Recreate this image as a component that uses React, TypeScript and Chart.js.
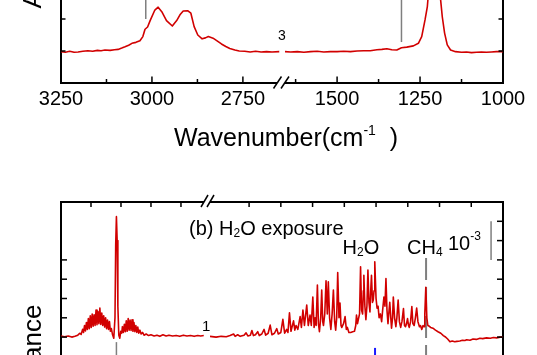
import React, { useEffect, useRef } from 'react';
import { Chart, registerables } from 'chart.js';

Chart.register(...registerables);

const FONT = '"Liberation Sans", Arial, Helvetica, sans-serif';
const RED = '#d10000';
const GRAY = '#7f7f7f';
const BLUE = '#1a1aff';

// ---------- Panel (a): left segment (C-H stretch) ----------
const aLeftWavenumber = [3250, 3238, 3226, 3214, 3203, 3190, 3176, 3163, 3150, 3140, 3129, 3115, 3103, 3093, 3083, 3074, 3064, 3055, 3044, 3033, 3025, 3019, 3012, 3005, 2992, 2983, 2973, 2960, 2944, 2932, 2923, 2914, 2902, 2893, 2884, 2874, 2862, 2853, 2845, 2832, 2820, 2809, 2797, 2786, 2772, 2760, 2745, 2730, 2715, 2700, 2685, 2670, 2650];
const aLeftAbsorbance = [0.98, 0.96, 0.99, 0.96, 0.97, 0.99, 1.01, 0.99, 1.02, 1.01, 1.03, 1.02, 1.04, 1.05, 1.09, 1.13, 1.18, 1.24, 1.27, 1.32, 1.45, 1.68, 1.75, 1.95, 2.28, 2.37, 2.23, 1.95, 1.78, 1.95, 2.13, 2.25, 2.26, 2.18, 1.76, 1.5, 1.38, 1.41, 1.45, 1.40, 1.31, 1.22, 1.14, 1.08, 1.03, 1.0, 0.99, 0.97, 0.99, 0.97, 0.98, 0.97, 0.98];

// ---------- Panel (a): right segment (CH4 bend / 1200 band) ----------
const aRightWavenumber = [1657, 1640, 1620, 1600, 1580, 1560, 1540, 1520, 1500, 1480, 1460, 1440, 1420, 1400, 1380, 1365, 1350, 1335, 1320, 1306, 1290, 1270, 1255, 1245, 1235, 1228, 1220, 1213, 1207, 1200, 1193, 1188, 1183, 1176, 1168, 1158, 1143, 1125, 1110, 1095, 1080, 1065, 1050, 1035, 1020, 1000];
const aRightAbsorbance = [0.98, 0.97, 0.98, 0.96, 0.98, 0.99, 0.97, 0.98, 0.98, 0.99, 0.98, 1.0, 1.01, 1.01, 1.04, 1.05, 1.07, 1.04, 1.03, 1.1, 1.12, 1.16, 1.24, 1.45, 1.97, 2.39, 3.4, 4.8, 5.6, 5.0, 3.6, 2.6, 2.07, 1.56, 1.19, 1.03, 0.98, 0.96, 0.97, 0.95, 0.96, 0.97, 0.96, 0.97, 0.98, 0.98];

// ---------- Panel (b): left segment ----------
const bLeftWavenumber = [3250, 3235, 3220, 3205, 3192, 3180, 3172, 3166, 3160, 3156, 3152, 3148, 3144, 3140, 3136, 3132, 3128, 3124, 3120, 3116, 3112, 3108, 3104, 3100, 3096, 3092, 3088, 3084, 3080, 3076, 3072, 3068, 3064, 3060, 3056, 3052, 3048, 3044, 3040, 3035, 3030, 3025, 3022, 3019, 3016, 3013, 3009, 3005, 3001, 2997, 2994, 2990, 2986, 2982, 2978, 2974, 2970, 2966, 2962, 2958, 2954, 2950, 2946, 2942, 2938, 2934, 2930, 2926, 2921, 2916, 2910, 2904, 2895, 2885, 2875, 2862, 2850, 2838, 2825, 2812, 2800, 2785, 2770, 2755, 2740, 2725, 2710, 2695, 2680, 2668, 2655];
const bLeftAbsorbance = [0.03, 0.01, 0.03, 0.0, 0.02, 0.05, 0.1, 0.07, 0.2, 0.12, 0.3, 0.16, 0.38, 0.2, 0.48, 0.22, 0.55, 0.25, 0.6, 0.28, 0.58, 0.3, 0.7, 0.32, 0.66, 0.35, 0.75, 0.33, 0.62, 0.3, 0.55, 0.26, 0.5, 0.22, 0.44, 0.2, 0.4, 0.15, 0.22, 0.06, -0.03, 0.5, 2.4, 3.12, 2.5, 0.8, 0.05, -0.03, 0.15, 0.1, 0.27, 0.12, 0.33, 0.14, 0.42, 0.15, 0.48, 0.18, 0.44, 0.17, 0.45, 0.15, 0.38, 0.14, 0.3, 0.12, 0.26, 0.1, 0.18, 0.08, 0.12, 0.05, 0.08, 0.04, 0.06, 0.03, 0.05, 0.02, 0.06, 0.03, 0.05, 0.03, 0.04, 0.02, 0.05, 0.03, 0.04, 0.02, 0.04, 0.03, 0.04];

// ---------- Panel (b): right segment (H2O bend + CH4) ----------
const bRightWavenumber = [2154, 2130, 2110, 2090, 2075, 2061, 2055, 2045, 2035, 2020, 2012, 2005, 1995, 1989, 1983, 1975, 1966, 1960, 1950, 1941, 1935, 1925, 1917, 1910, 1900, 1891, 1885, 1875, 1867, 1860, 1852, 1847, 1841, 1835, 1825, 1820, 1815, 1808, 1799, 1794, 1788, 1782, 1773, 1767, 1760, 1755, 1749, 1744, 1740, 1736, 1731, 1727, 1723, 1718, 1714, 1710, 1707, 1702, 1697, 1692, 1688, 1683, 1678, 1673, 1668, 1663, 1659, 1655, 1651, 1646, 1642, 1638, 1635, 1628, 1622, 1617, 1613, 1607, 1600, 1592, 1585, 1580, 1577, 1573, 1570, 1565, 1561, 1557, 1553, 1550, 1548, 1544, 1540, 1536, 1532, 1528, 1524, 1521, 1518, 1514, 1511, 1508, 1505, 1500, 1496, 1492, 1488, 1483, 1478, 1474, 1469, 1465, 1461, 1457, 1453, 1450, 1446, 1442, 1439, 1435, 1432, 1427, 1422, 1418, 1413, 1408, 1403, 1398, 1392, 1388, 1384, 1380, 1376, 1372, 1369, 1364, 1359, 1355, 1350, 1345, 1340, 1335, 1329, 1325, 1320, 1315, 1311, 1308, 1304, 1300, 1296, 1290, 1285, 1276, 1266, 1256, 1245, 1235, 1228, 1218, 1209, 1200, 1190, 1182, 1170, 1160, 1150, 1143, 1130, 1118, 1105, 1091, 1080, 1065, 1050, 1038, 1025, 1012, 1000];
const bRightAbsorbance = [0.02, 0.0, 0.02, 0.01, 0.04, 0.08, 0.02, 0.06, 0.02, 0.05, 0.11, 0.03, 0.05, 0.17, 0.04, 0.06, 0.14, 0.04, 0.08, 0.2, 0.05, 0.1, 0.31, 0.06, 0.1, 0.22, 0.08, 0.12, 0.46, 0.1, 0.2, 0.12, 0.63, 0.15, 0.42, 0.18, 0.3, 0.2, 0.53, 0.25, 0.7, 0.3, 0.83, 0.3, 0.57, 0.3, 1.04, 0.25, 0.5, 0.3, 1.35, 0.35, 0.14, 0.5, 1.22, 0.4, 0.3, 0.6, 1.46, 0.6, 1.43, 0.5, 0.2, 0.6, 1.22, 0.4, 0.18, 0.5, 1.67, 0.5, 0.88, 0.3, 0.25, 0.35, 0.53, 0.2, 0.25, 0.12, 0.12, 0.14, 0.15, 0.3, 0.57, 0.35, 0.45, 0.6, 1.82, 0.7, 0.6, 1.2, 1.6, 0.8, 0.45, 0.8, 1.74, 0.9, 0.65, 1.2, 1.6, 0.9, 0.96, 1.2, 1.95, 1.0, 0.75, 0.8, 0.5, 0.6, 0.4, 0.7, 1.04, 0.8, 1.52, 0.7, 0.35, 0.6, 0.9, 0.5, 0.23, 0.5, 1.04, 0.5, 0.27, 0.5, 0.96, 0.4, 0.25, 0.4, 0.74, 0.3, 0.27, 0.35, 0.48, 0.3, 0.25, 0.4, 0.79, 0.35, 0.3, 0.5, 0.75, 0.4, 0.27, 0.3, 0.2, 0.3, 0.27, 0.6, 1.29, 0.5, 0.3, 0.28, 0.25, 0.23, 0.18, 0.14, 0.1, 0.04, 0.01, -0.05, -0.12, -0.1, -0.12, -0.11, -0.1, -0.08, -0.09, -0.07, -0.08, -0.05, -0.06, -0.03, -0.04, -0.02, -0.03, -0.01, -0.02, 0.0, 0.0];

// ---------- Axis ticks ----------
const aLeftTicks = [3250, 3125, 3000, 2875, 2750];
const aRightTicks = [1625, 1500, 1375, 1250, 1125, 1000];
const bLeftTicks = [3250, 3125, 3000, 2875, 2750];
const bRightTicks = [2000, 1875, 1750, 1625, 1500, 1375, 1250, 1125, 1000];
const aYTicks = [1, 2, 3, 4, 5, 6, 7];
const bLeftYTicks = [0, 0.5, 1, 1.5, 2];
const bRightYTicks = [0, 0.5, 1, 1.5, 2, 2.5, 3];

// ---------- Reference marks (wavenumber, from, to) ----------
const aLeftMarks = [{ x: 3017, from: 2.0, to: 3.4, color: GRAY, width: 1.5, dash: [] as number[] }];
const aRightMarks = [{ x: 1306, from: 1.28, to: 2.8, color: GRAY, width: 1.5, dash: [] as number[] }];
const bLeftMarks = [{ x: 3019, from: -0.13, to: -1.5, color: GRAY, width: 1.5, dash: [] as number[] }];
const bRightMarks = [
  { x: 1303, from: 2.05, to: -1.5, color: GRAY, width: 2, dash: [22, 7] },
  { x: 1504, from: -0.28, to: -1.5, color: BLUE, width: 2, dash: [] as number[] },
  { x: 1047, from: 2.0, to: 3.0, color: GRAY, width: 1.5, dash: [] as number[] },
];

type Mark = { x: number; from: number; to: number; color: string; width: number; dash: number[] };
type SegCfg = {
  xs: number[]; ys: number[];
  xMin: number; xMax: number; yMin: number; yMax: number;
  padding: { left: number; right: number; top: number; bottom: number };
  yPos: 'left' | 'right'; yWidth: number;
  xPos: 'top' | 'bottom'; xHeight: number;
  xTicks: number[]; majorEvery: number; majorLen: number; minorLen: number; showLabels: boolean;
  yTicks: number[]; yLen: number;
  marks: Mark[];
  brk?: 'bottom' | 'top';
};

function segPlugin(cfg: SegCfg) {
  return {
    id: 'segFrame',
    beforeDatasetsDraw(chart: any) {
      const ctx = chart.ctx;
      const xs = chart.scales.x;
      const ys = chart.scales.y;
      ctx.save();
      cfg.marks.forEach((m) => {
        ctx.beginPath();
        ctx.strokeStyle = m.color;
        ctx.lineWidth = m.width;
        ctx.setLineDash(m.dash);
        const px = xs.getPixelForValue(m.x);
        ctx.moveTo(px, ys.getPixelForValue(m.from));
        ctx.lineTo(px, ys.getPixelForValue(m.to));
        ctx.stroke();
      });
      ctx.restore();
    },
    afterDraw(chart: any) {
      const ctx = chart.ctx;
      const xs = chart.scales.x;
      const ys = chart.scales.y;
      const { left, right, top, bottom } = chart.chartArea;
      ctx.save();
      ctx.strokeStyle = '#000';
      ctx.lineWidth = 1.5;
      ctx.setLineDash([]);
      cfg.xTicks.forEach((v) => {
        const px = xs.getPixelForValue(v);
        const len = v % cfg.majorEvery === 0 ? cfg.majorLen : cfg.minorLen;
        const y0 = cfg.xPos === 'bottom' ? bottom : top;
        const dir = cfg.xPos === 'bottom' ? -1 : 1;
        ctx.beginPath();
        ctx.moveTo(px, y0);
        ctx.lineTo(px, y0 + dir * len);
        ctx.stroke();
      });
      cfg.yTicks.forEach((v) => {
        const py = ys.getPixelForValue(v);
        const x0 = cfg.yPos === 'left' ? left : right;
        const dir = cfg.yPos === 'left' ? 1 : -1;
        ctx.beginPath();
        ctx.moveTo(x0, py);
        ctx.lineTo(x0 + dir * cfg.yLen, py);
        ctx.stroke();
      });
      if (cfg.brk) {
        const B = cfg.brk === 'bottom' ? bottom : top;
        const L = left;
        const s1 = cfg.brk === 'bottom'
          ? [[L - 11.5, B + 5.5], [L - 3.5, B - 6.5]]
          : [[L - 9, B + 5], [L - 2, B - 7]];
        const s2 = cfg.brk === 'bottom'
          ? [[L - 4, B + 5.5], [L + 4, B - 6.5]]
          : [[L - 3, B + 5], [L + 4, B - 7]];
        ctx.fillStyle = '#fff';
        ctx.beginPath();
        ctx.moveTo(s1[0][0], s1[0][1]);
        ctx.lineTo(s1[1][0], s1[1][1]);
        ctx.lineTo(s2[1][0], s2[1][1]);
        ctx.lineTo(s2[0][0], s2[0][1]);
        ctx.closePath();
        ctx.fill();
        ctx.lineWidth = 1.5;
        [s1, s2].forEach((s) => {
          ctx.beginPath();
          ctx.moveTo(s[0][0], s[0][1]);
          ctx.lineTo(s[1][0], s[1][1]);
          ctx.stroke();
        });
      }
      ctx.restore();
    },
  };
}

function makeChart(canvas: HTMLCanvasElement, cfg: SegCfg) {
  const data = cfg.xs.map((x, i) => ({ x, y: cfg.ys[i] }));
  return new Chart(canvas, {
    type: 'line',
    data: {
      datasets: [
        {
          data,
          borderColor: RED,
          borderWidth: 1.6,
          pointRadius: 0,
          tension: 0,
          fill: false,
          borderJoinStyle: 'round',
        } as any,
      ],
    },
    options: {
      responsive: false,
      maintainAspectRatio: false,
      animation: false,
      devicePixelRatio: 1,
      events: [],
      layout: { padding: cfg.padding },
      plugins: { legend: { display: false }, tooltip: { enabled: false }, title: { display: false } },
      scales: {
        x: {
          type: 'linear',
          position: cfg.xPos,
          min: cfg.xMin,
          max: cfg.xMax,
          reverse: true,
          grid: { display: false, drawTicks: false },
          border: { display: true, color: '#000', width: 2 },
          afterBuildTicks: (scale: any) => {
            scale.ticks = cfg.xTicks.map((v) => ({ value: v }));
          },
          afterFit: (scale: any) => {
            scale.height = cfg.xHeight;
          },
          ticks: {
            display: cfg.showLabels,
            autoSkip: false,
            maxRotation: 0,
            minRotation: 0,
            padding: 4,
            color: '#000',
            font: { family: FONT, size: 20 },
            callback: (v: any) => (Number(v) % 250 === 0 ? String(v) : ''),
          },
        },
        y: {
          type: 'linear',
          position: cfg.yPos,
          min: cfg.yMin,
          max: cfg.yMax,
          grid: { display: false, drawTicks: false },
          border: { display: true, color: '#000', width: 2 },
          ticks: { display: false },
          afterFit: (scale: any) => {
            scale.width = cfg.yWidth;
          },
        },
      },
    },
    plugins: [segPlugin(cfg)],
  } as any);
}

const textBase: React.CSSProperties = {
  position: 'absolute',
  fontFamily: FONT,
  lineHeight: 1,
  whiteSpace: 'nowrap',
  color: '#000',
};

export default function App() {
  const tl = useRef<HTMLCanvasElement>(null);
  const tr = useRef<HTMLCanvasElement>(null);
  const bl = useRef<HTMLCanvasElement>(null);
  const br = useRef<HTMLCanvasElement>(null);

  useEffect(() => {
    const charts: Chart[] = [];
    charts.push(
      makeChart(tl.current!, {
        xs: aLeftWavenumber, ys: aLeftAbsorbance,
        xMin: 2648, xMax: 3250, yMin: 0, yMax: 7.5,
        padding: { left: 0, right: 257, top: 0, bottom: 0 },
        yPos: 'left', yWidth: 61, xPos: 'bottom', xHeight: 60,
        xTicks: aLeftTicks, majorEvery: 250, majorLen: 6.5, minorLen: 4, showLabels: true,
        yTicks: aYTicks, yLen: 4.5, marks: aLeftMarks,
      })
    );
    charts.push(
      makeChart(tr.current!, {
        xs: aRightWavenumber, ys: aRightAbsorbance,
        xMin: 1000, xMax: 1657, yMin: 0, yMax: 7.5,
        padding: { left: 285, right: 0, top: 0, bottom: 0 },
        yPos: 'right', yWidth: 34, xPos: 'bottom', xHeight: 60,
        xTicks: aRightTicks, majorEvery: 250, majorLen: 6.5, minorLen: 4, showLabels: true,
        yTicks: aYTicks, yLen: 4.5, marks: aRightMarks, brk: 'bottom',
      })
    );
    charts.push(
      makeChart(bl.current!, {
        xs: bLeftWavenumber, ys: bLeftAbsorbance,
        xMin: 2654, xMax: 3250, yMin: -1.5, yMax: 3.5,
        padding: { left: 0, right: 333, top: 202, bottom: 5 },
        yPos: 'left', yWidth: 61, xPos: 'top', xHeight: 0,
        xTicks: bLeftTicks, majorEvery: 125, majorLen: 5, minorLen: 5, showLabels: false,
        yTicks: bLeftYTicks, yLen: 6, marks: bLeftMarks,
      })
    );
    charts.push(
      makeChart(br.current!, {
        xs: bRightWavenumber, ys: bRightAbsorbance,
        xMin: 1000, xMax: 2154, yMin: -1.5, yMax: 3.5,
        padding: { left: 210, right: 0, top: 202, bottom: 5 },
        yPos: 'right', yWidth: 34, xPos: 'top', xHeight: 0,
        xTicks: bRightTicks, majorEvery: 125, majorLen: 5, minorLen: 5, showLabels: false,
        yTicks: bRightYTicks, yLen: 6, marks: bRightMarks, brk: 'top',
      })
    );
    return () => charts.forEach((c) => c.destroy());
  }, []);

  const sub = (t: string, size: number, dy: number) => (
    <span style={{ fontSize: size, position: 'relative', top: dy }}>{t}</span>
  );

  return (
    <div
      style={{
        position: 'fixed', left: 0, top: 0, width: 537, height: 355,
        overflow: 'hidden', background: '#fff',
      }}
    >
      <canvas ref={tl} width={537} height={300} style={{ position: 'absolute', left: 0, top: -157 }} />
      <canvas ref={tr} width={537} height={300} style={{ position: 'absolute', left: 0, top: -157 }} />
      <canvas ref={bl} width={537} height={400} style={{ position: 'absolute', left: 0, top: 0 }} />
      <canvas ref={br} width={537} height={400} style={{ position: 'absolute', left: 0, top: 0 }} />

      {/* y-axis titles (rotated) */}
      <div style={{ ...textBase, fontSize: 26, left: 32, top: -61, transform: 'translate(-50%, -50%) rotate(-90deg)' }}>
        Absorbance
      </div>
      <div style={{ ...textBase, fontSize: 26, left: 32, top: 374, transform: 'translate(-50%, -50%) rotate(-90deg)' }}>
        Absorbance
      </div>

      {/* x-axis title of panel (a) */}
      <div style={{ ...textBase, fontSize: 25, left: 174, top: 124.5 }}>
        Wavenumber(cm{sub('-1', 14, -11)}&nbsp;&nbsp;)
      </div>

      <div style={{ ...textBase, fontSize: 14, left: 278, top: 28 }}>3</div>
      <div style={{ ...textBase, fontSize: 15, left: 202, top: 318 }}>1</div>

      <div style={{ ...textBase, fontSize: 20, left: 189, top: 218 }}>
        (b) H{sub('2', 12, 1.5)}O exposure
      </div>
      <div style={{ ...textBase, fontSize: 20, left: 342.5, top: 237.4 }}>
        H{sub('2', 12, 1.5)}O
      </div>
      <div style={{ ...textBase, fontSize: 20, left: 407, top: 237 }}>
        CH{sub('4', 12, 1.5)}
      </div>
      <div style={{ ...textBase, fontSize: 20, left: 448, top: 233 }}>
        10{sub('-3', 12, -10.5)}
      </div>
    </div>
  );
}
